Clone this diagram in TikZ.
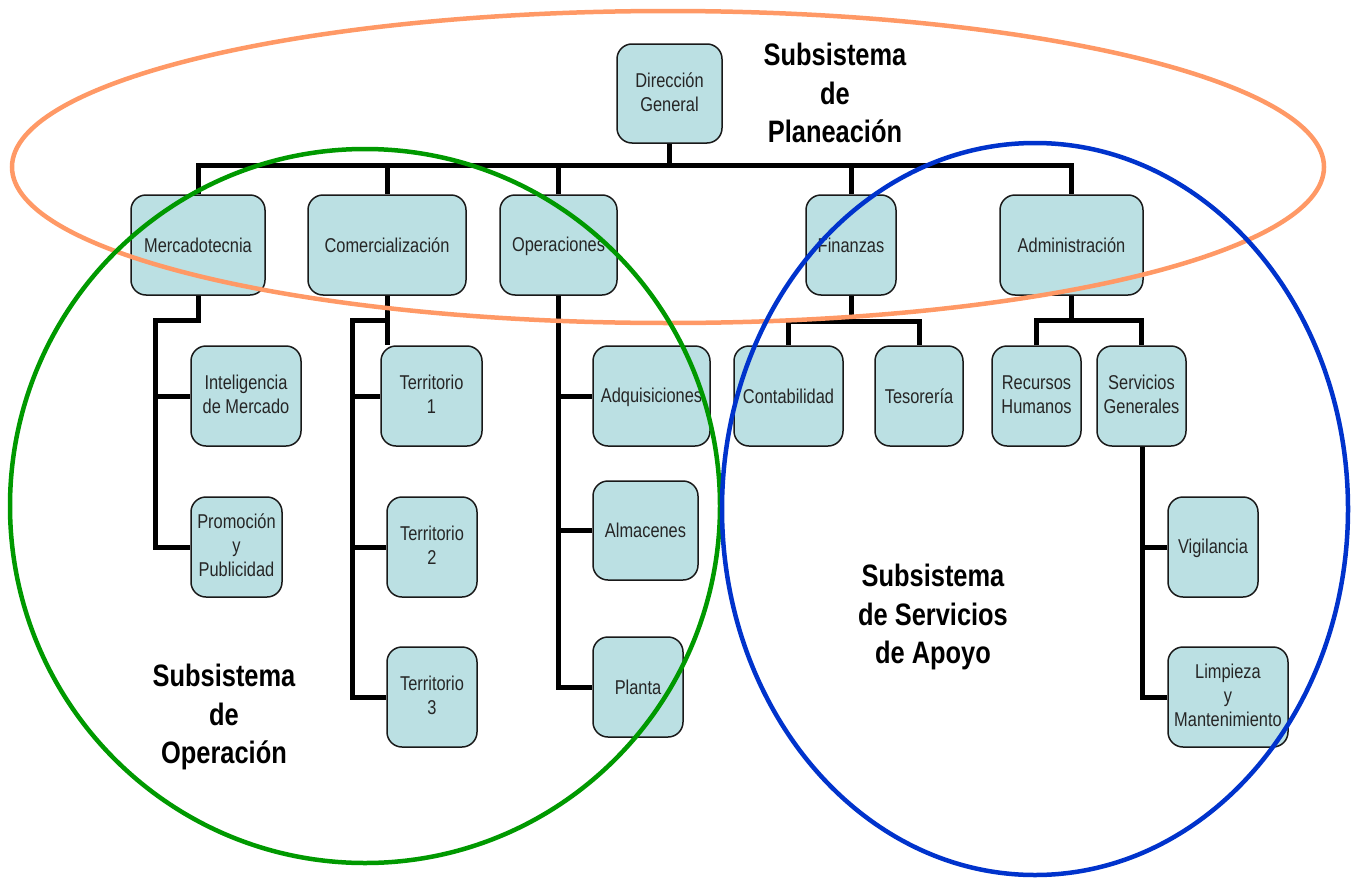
\documentclass[tikz,border=0pt]{standalone}
\usepackage{fontspec}
\usetikzlibrary{backgrounds}
\setmainfont{Liberation Sans}[FakeStretch=0.82]
\newcommand{\boxstrut}{\rule[-2.8pt]{0pt}{20pt}}
\begin{document}
\begin{tikzpicture}[x=1pt,y=-1pt,
  box/.style={draw=black!90, line width=1.5pt, fill=boxfill, rounded corners=15pt,
    align=center, inner sep=0pt, text=black!85,
    font=\fontsize{20}{24}\selectfont,
    execute at begin node=\boxstrut, execute at end node=\boxstrut},
  conn/.style={line width=5pt, draw=black, line join=miter},
  ring/.style={line width=4.5pt},
  title/.style={align=center, font=\fontsize{31}{38.5}\selectfont\bfseries, text=black}
]
\definecolor{boxfill}{HTML}{BBE0E3}
\definecolor{ringorange}{HTML}{FF9966}
\definecolor{ringgreen}{HTML}{009900}
\definecolor{ringblue}{HTML}{0033CC}
\useasboundingbox (0,0) rectangle (1357,878);

% --- organisation units ---
\node[box, minimum width=105, minimum height=99] (dir) at (669.5,93.5) {Dirección\\General};

\node[box, minimum width=134, minimum height=100] (merc)  at (198,245)   {Mercadotecnia};
\node[box, minimum width=158, minimum height=100] (comer) at (387,245)   {Comercialización};
\node[box, minimum width=117, minimum height=100] (oper)  at (558.5,245) {Operaciones};
\node[box, minimum width=90,  minimum height=100] (fin)   at (851,245)   {Finanzas};
\node[box, minimum width=143, minimum height=100] (adm)   at (1071.5,245){Administración};

\node[box, minimum width=110, minimum height=100] (intel) at (246,396)   {Inteligencia\\de Mercado};
\node[box, minimum width=91,  minimum height=100] (promo) at (236.5,547) {Promoción\\y\\Publicidad};

\node[box, minimum width=101, minimum height=100] (terr1) at (431.5,396) {Territorio\\1};
\node[box, minimum width=90,  minimum height=100] (terr2) at (432,547)   {Territorio\\2};
\node[box, minimum width=90,  minimum height=100] (terr3) at (432,697)   {Territorio\\3};

\node[box, minimum width=117, minimum height=100] (adq)   at (651.5,396) {Adquisiciones};
\node[box, minimum width=105, minimum height=99]  (alm)   at (645.5,530.5) {Almacenes};
\node[box, minimum width=90,  minimum height=100] (plan)  at (638,687)   {Planta};

\node[box, minimum width=109, minimum height=100] (cont)  at (788.5,396) {Contabilidad};
\node[box, minimum width=88,  minimum height=100] (tes)   at (919,396)   {Tesorería};

\node[box, minimum width=89,  minimum height=100] (rh)    at (1036.5,396){Recursos\\Humanos};
\node[box, minimum width=89,  minimum height=100] (sg)    at (1141.5,396){Servicios\\Generales};

\node[box, minimum width=90,  minimum height=100] (vig)   at (1213,547)  {Vigilancia};
\node[box, minimum width=120, minimum height=100] (limp)  at (1228,697)  {Limpieza\\y\\Mantenimiento};

% --- reporting lines (behind the boxes) ---
\coordinate (bus) at (0,165);
\coordinate (mk)  at (155,320);
\coordinate (cm)  at (352,320);
\coordinate (fn)  at (0,321);
\coordinate (an)  at (0,320);
\coordinate (sv)  at (1142,0);

\begin{scope}[on background layer]
  % top level bus
  \draw[conn] (dir.south) -- (dir.south |- bus);
  \draw[conn] (merc.north) -- (merc.north |- bus) -- (adm.north |- bus) -- (adm.north);
  \draw[conn] (comer.north) -- (comer.north |- bus);
  \draw[conn] (oper.north) -- (oper.north |- bus);
  \draw[conn] (fin.north) -- (fin.north |- bus);
  % Mercadotecnia
  \draw[conn] (merc.south) -- (merc.south |- mk) -- (mk) -- (mk |- promo.west) -- (promo.west);
  \draw[conn] (mk |- intel.west) -- (intel.west);
  % Comercializacion
  \draw[conn] (comer.south) -- (comer.south |- terr1.north);
  \draw[conn] (comer.south |- cm) -- (cm) -- (cm |- terr3.west) -- (terr3.west);
  \draw[conn] (cm |- terr1.west) -- (terr1.west);
  \draw[conn] (cm |- terr2.west) -- (terr2.west);
  % Operaciones
  \draw[conn] (oper.south) -- (oper.south |- plan.west) -- (plan.west);
  \draw[conn] (oper.south |- adq.west) -- (adq.west);
  \draw[conn] (oper.south |- alm.west) -- (alm.west);
  % Finanzas
  \draw[conn] (fin.south) -- (fin.south |- fn);
  \draw[conn] (cont.north) -- (cont.north |- fn) -- (tes.north |- fn) -- (tes.north);
  % Administracion
  \draw[conn] (adm.south) -- (adm.south |- an);
  \draw[conn] (rh.north) -- (rh.north |- an) -- (sg.north |- an) -- (sg.north);
  % Servicios Generales
  \draw[conn] (sv |- sg.south) -- (sv |- limp.west) -- (limp.west);
  \draw[conn] (sv |- vig.west) -- (vig.west);
\end{scope}

% --- subsystems ---
\draw[ring, ringorange] (668,167) ellipse [x radius=656, y radius=156];
\draw[ring, ringgreen]  (365,506) ellipse [x radius=355, y radius=357];
\draw[ring, ringblue]   (1035,509) ellipse [x radius=313, y radius=366];

\node[title] (tplan) at (835,93)  {Subsistema\\de\\Planeación};
\node[title] (toper) at (224,717) {Subsistema\\de\\Operación};
\node[title] (tapoy) at (933,617) {Subsistema\\de Servicios\\de Apoyo};

\end{tikzpicture}
\end{document}
